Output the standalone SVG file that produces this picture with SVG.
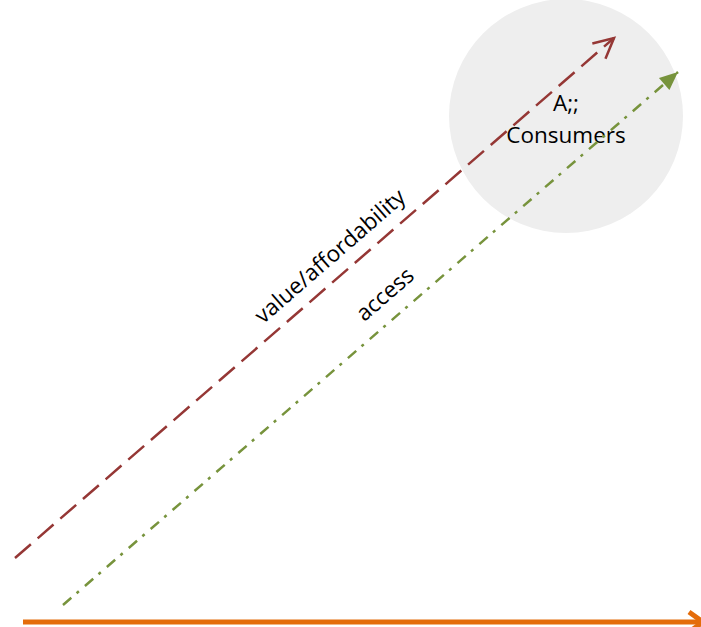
<svg xmlns="http://www.w3.org/2000/svg" width="701" height="627" viewBox="0 0 701 627">
<style>
text{font-family:"Open Sans","Liberation Sans",Arial,sans-serif;fill:#000}
.lbl{font-size:22.5px}
</style>
<defs>
<marker id="openRed" markerUnits="userSpaceOnUse" markerWidth="30" markerHeight="30" refX="22" refY="12" orient="auto" viewBox="0 0 30 24">
<path d="M2,2 L22,12 L2,22" fill="none" stroke="#953735" stroke-width="2.5"/>
</marker>
<marker id="fillGreen" markerUnits="userSpaceOnUse" markerWidth="20" markerHeight="16" refX="16" refY="7" orient="auto" viewBox="0 0 16 14">
<path d="M0,0 L16,7 L0,14 Z" fill="#77933c"/>
</marker>
<marker id="openOrange" markerUnits="userSpaceOnUse" markerWidth="30" markerHeight="30" refX="18" refY="12" orient="auto" viewBox="0 0 30 24">
<path d="M4,2 L18,12 L4,22" fill="none" stroke="#e46c0a" stroke-width="5"/>
</marker>
</defs>
<g id="consumers">
<circle cx="566" cy="116" r="117" fill="#eeeeee"/>
<text class="lbl" x="566" y="111" text-anchor="middle">A;;</text>
<text class="lbl" x="566" y="143" text-anchor="middle">Consumers</text>
</g>
<g id="connectors">
<line x1="15" y1="558" x2="614" y2="38" stroke="#953735" stroke-width="2.5" stroke-dasharray="21 9" marker-end="url(#openRed)"/>
<line x1="63" y1="605" x2="678" y2="72" stroke="#77933c" stroke-width="2.5" stroke-dasharray="11 7 3 8" marker-end="url(#fillGreen)"/>
<line x1="23" y1="622" x2="703" y2="622" stroke="#e46c0a" stroke-width="5" marker-end="url(#openOrange)"/>
</g>
<g id="labels">
<text class="lbl" transform="translate(335,262) rotate(-41)" text-anchor="middle">value/affordability</text>
<text class="lbl" transform="translate(390,300) rotate(-41)" text-anchor="middle">access</text>
</g>
</svg>
